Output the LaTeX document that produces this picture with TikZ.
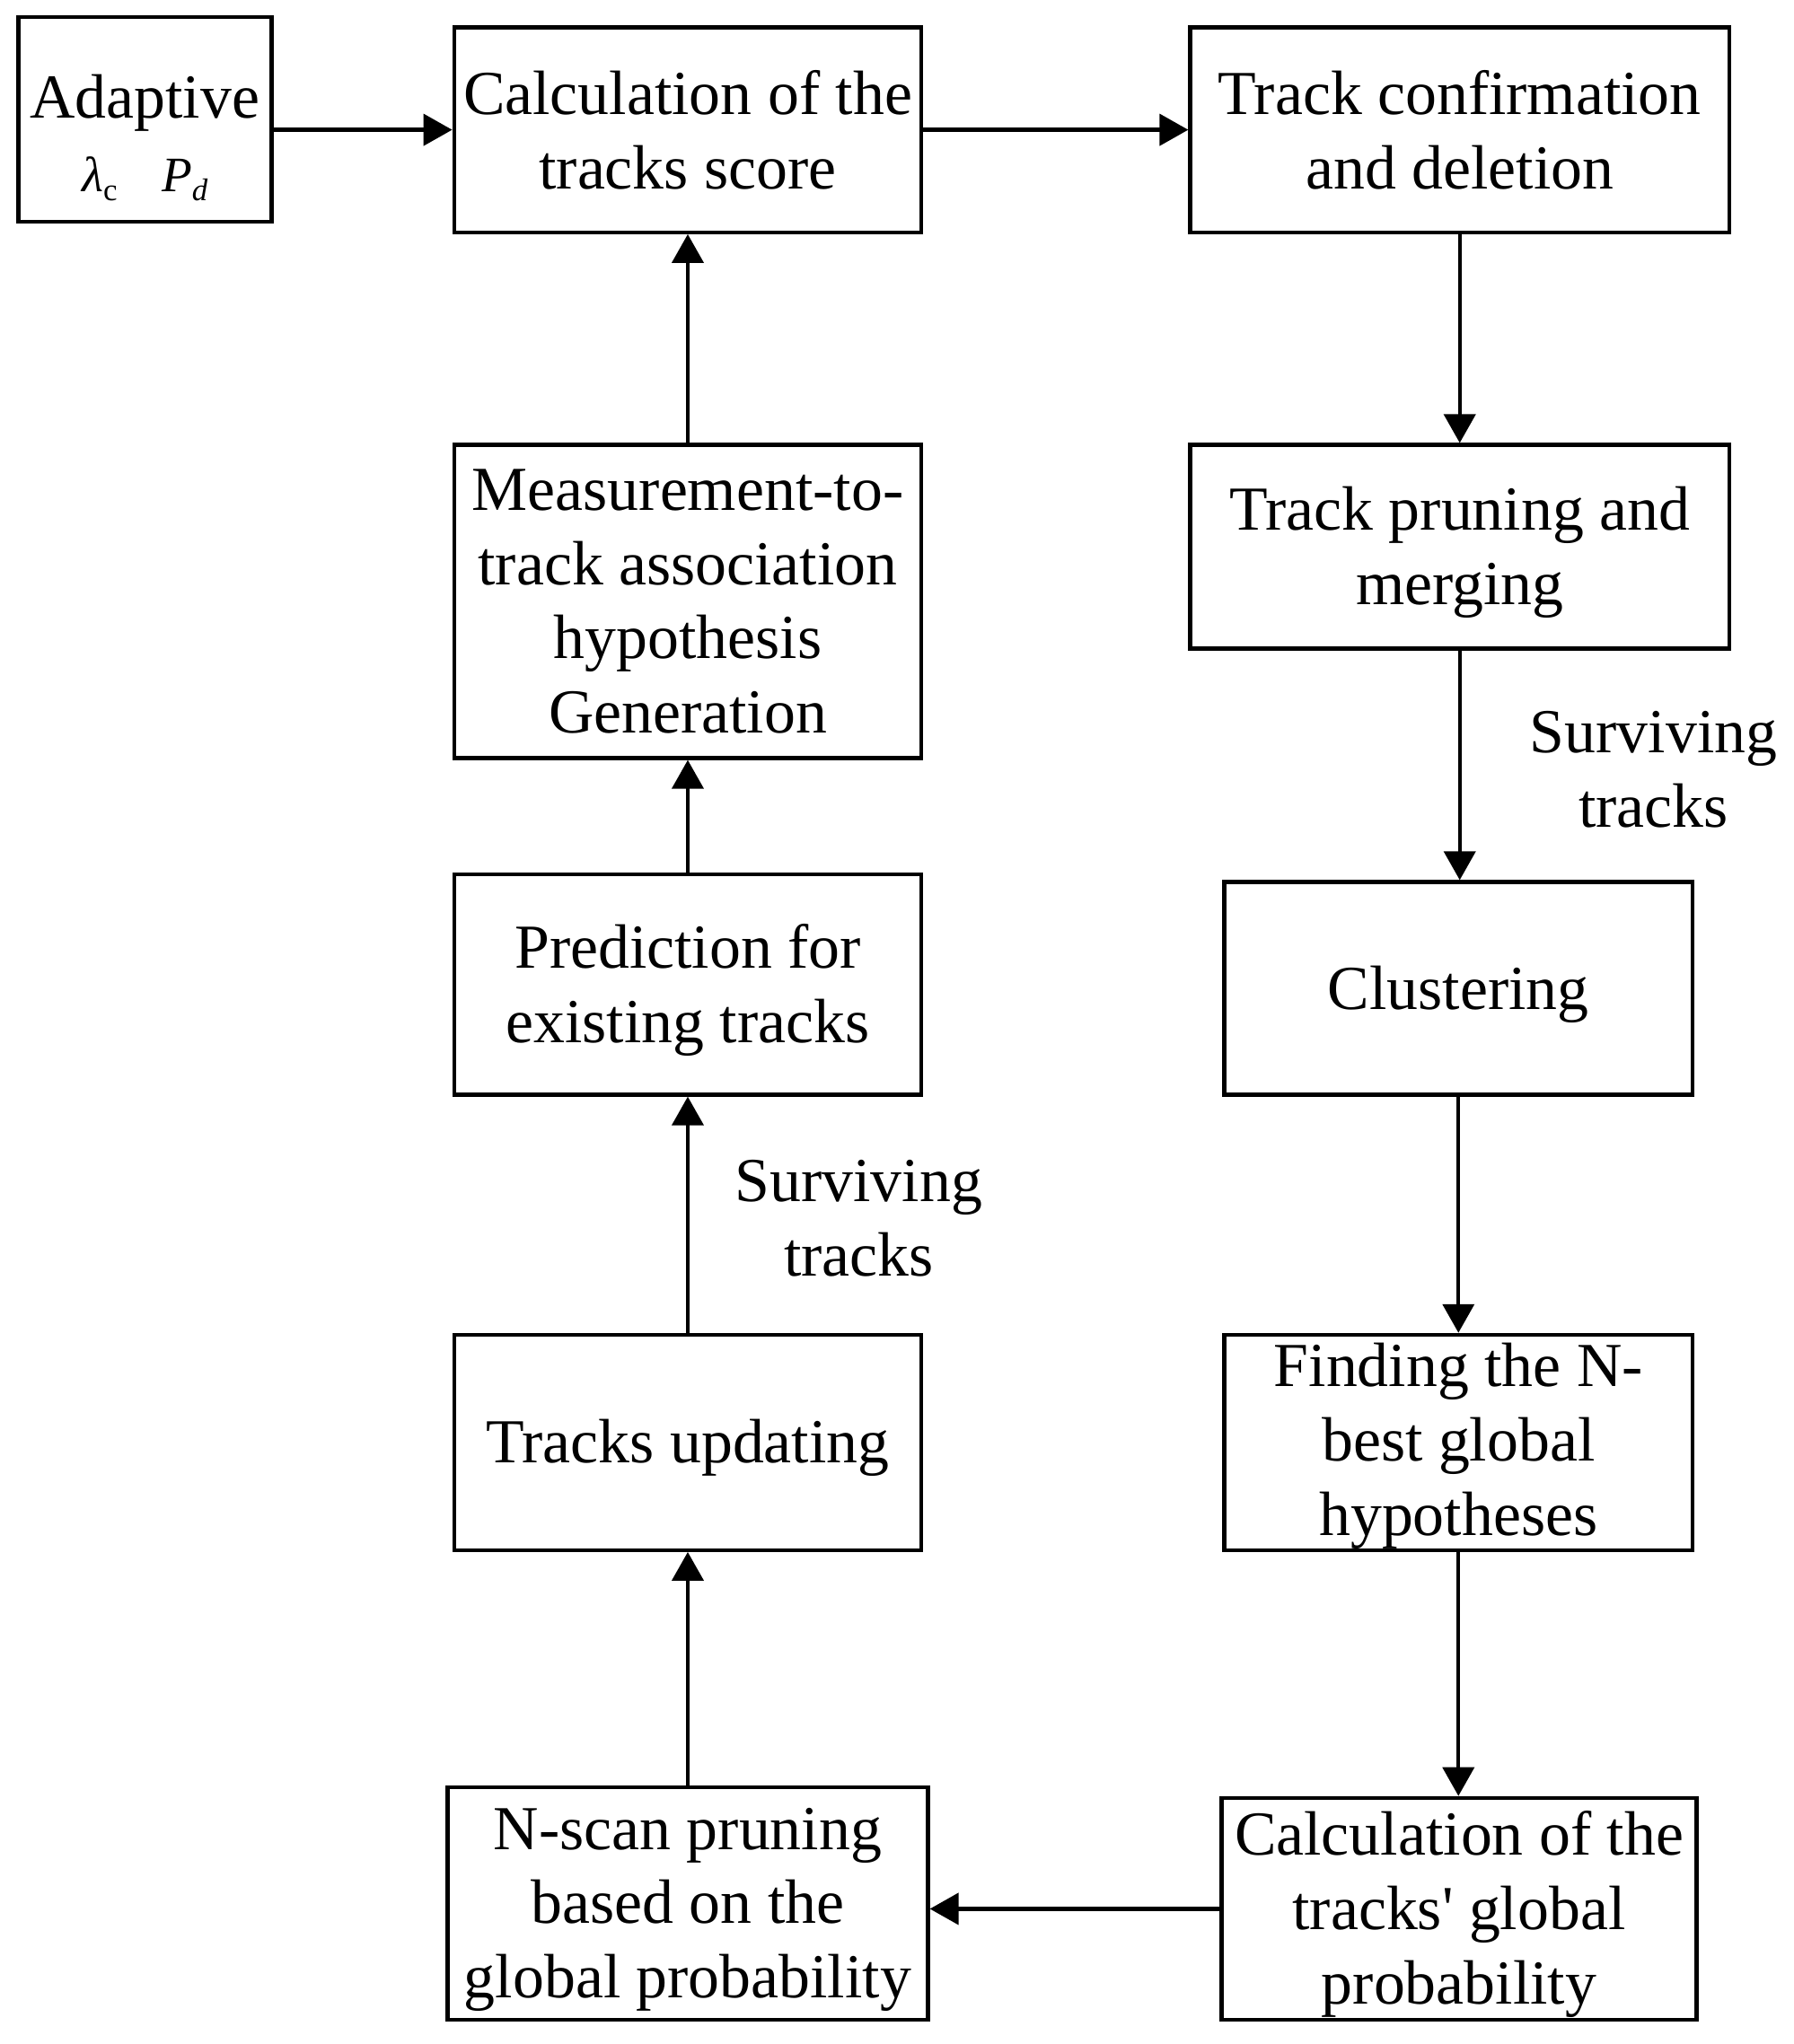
\documentclass[tikz,border=0pt]{standalone}
\usepackage{fontspec}
\setmainfont{Liberation Serif}
\newfontfamily\aposfont{Liberation Serif}
\usetikzlibrary{arrows.meta}
\begin{document}
\begin{tikzpicture}[x=0.5pt,y=-0.5pt,
  box/.style={draw=black,line width=1.5pt,inner sep=0pt},
  txt/.style={inner sep=0pt,align=center,font=\fontsize{24}{28.5}\selectfont},
  arr/.style={line width=1.5pt,-{Triangle[length=11pt,width=12pt]}}]
\useasboundingbox (0,0) rectangle (1374,1566.6);
% boxes
\node[box,minimum width=97pt,minimum height=78.5pt] (adapt) at (111,91.5) {};
\node[box,minimum width=179pt,minimum height=78.5pt] (calc) at (527,99.5) {};
\node[box,minimum width=206.5pt,minimum height=78.5pt] (conf) at (1118.5,99.5) {};
\node[box,minimum width=179pt,minimum height=120pt] (meas) at (527,461) {};
\node[box,minimum width=206.5pt,minimum height=78pt] (prune) at (1118.5,419) {};
\node[box,minimum width=179pt,minimum height=84.5pt] (pred) at (527,754.5) {};
\node[box,minimum width=179.5pt,minimum height=81.5pt] (clus) at (1117.5,757.5) {};
\node[box,minimum width=179pt,minimum height=82.5pt] (upd) at (527,1105.5) {};
\node[box,minimum width=179.5pt,minimum height=82.5pt] (find) at (1117.5,1105.5) {};
\node[box,minimum width=184pt,minimum height=89pt] (nscan) at (527,1459) {};
\node[box,minimum width=182pt,minimum height=85pt] (glob) at (1118,1463) {};
% box texts
\node[txt] (adaptT) at (111,79) {Adaptive};
\node[txt,font=\fontsize{19}{22}\selectfont] (adaptM) at (111,137)
  {\textit{λ}\raisebox{-0.4ex}{\fontsize{12}{12}\selectfont c}\hspace{0.9em}\textit{P}\raisebox{-0.4ex}{\fontsize{12}{12}\selectfont\textit{d}}};
\node[txt] (calcT) at (calc.center) {Calculation of the\\tracks score};
\node[txt] (confT) at (conf.center) {Track confirmation\\and deletion};
\node[txt] (measT) at (meas.center) {Measurement-to-\\track association\\hypothesis\\Generation};
\node[txt] (pruneT) at ([yshift=-2.3pt]prune.center) {Track pruning and\\merging};
\node[txt] (predT) at ([yshift=-2.3pt]pred.center) {Prediction for\\existing tracks};
\node[txt] (clusT) at ([yshift=-2.3pt]clus.center) {Clustering};
\node[txt] (updT) at ([yshift=-2.1pt]upd.center) {Tracks updating};
\node[txt] (findT) at ([yshift=-1.4pt]find.center) {Finding the N-\\best global\\hypotheses};
\node[txt] (nscanT) at ([yshift=-2.3pt]nscan.center) {N-scan pruning\\based on the\\global probability};
\node[txt] (globT) at ([yshift=-2.1pt]glob.center) {Calculation of the\\tracks{\aposfont '} global\\probability};
% labels
\node[txt] (surv1) at (1267,590) {Surviving\\tracks};
\node[txt] (surv2) at (658,933.5) {Surviving\\tracks};
% connectors
\draw[arr] (adapt.east |- calc.west) -- (calc.west);
\draw[arr] (calc.east) -- (conf.west);
\draw[arr] (conf.south) -- (prune.north);
\draw[arr] (prune.south) -- (prune.south |- clus.north);
\draw[arr] (clus.south) -- (find.north);
\draw[arr] (find.south) -- (find.south |- glob.north);
\draw[arr] (glob.west) -- (nscan.east |- glob.west);
\draw[arr] (nscan.north) -- (upd.south);
\draw[arr] (upd.north) -- (pred.south);
\draw[arr] (pred.north) -- (meas.south);
\draw[arr] (meas.north) -- (calc.south);
\end{tikzpicture}
\end{document}
